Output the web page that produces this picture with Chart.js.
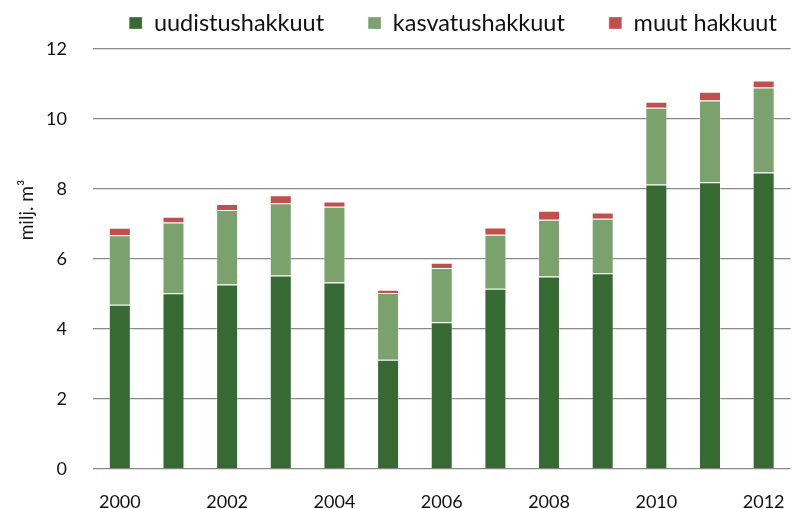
<!DOCTYPE html>
<html>
<head>
<meta charset="utf-8">
<script src="https://cdn.jsdelivr.net/npm/chart.js@4/dist/chart.umd.min.js"></script>
<style>
  html, body { margin: 0; padding: 0; background: #ffffff; }
  #wrap { width: 807px; height: 509px; position: relative; }
</style>
</head>
<body>
<div id="wrap"><canvas id="c"></canvas></div>
<script>
// ---- data (million m³) ----
const years = ['2000','2001','2002','2003','2004','2005','2006','2007','2008','2009','2010','2011','2012'];
const uudistushakkuut = [4.69, 5.02, 5.27, 5.53, 5.33, 3.12, 4.19, 5.15, 5.50, 5.59, 8.13, 8.19, 8.47];
const kasvatushakkuut = [1.99, 2.02, 2.13, 2.06, 2.16, 1.91, 1.55, 1.54, 1.62, 1.56, 2.19, 2.34, 2.43];
const muutHakkuut     = [0.21, 0.17, 0.17, 0.23, 0.15, 0.09, 0.15, 0.21, 0.26, 0.18, 0.17, 0.25, 0.20];
const seriesNames = ['uudistushakkuut', 'kasvatushakkuut', 'muut hakkuut'];
const yTicks = [0, 2, 4, 6, 8, 10, 12];
const yTitle = 'milj. m³';

Chart.defaults.font.family = 'Lato, "Open Sans", sans-serif';
Chart.defaults.color = '#1a1a1a';

const LEG_FS = 23.5, LEG_PAD = 44;

const yTitlePlugin = {
  id: 'yTitle',
  afterLayout(chart) {
    // place legend row (centered vertically at ~23px, horizontally at ~453px)
    const lg = chart.legend;
    if (lg) {
      const itemCenter = lg.top + LEG_PAD + LEG_FS / 2;
      const dy = 23 - itemCenter;
      lg.top += dy; lg.bottom += dy;
      const dx = 453 - (lg.left + lg.right) / 2;
      lg.left += dx; lg.right += dx;
    }
  },
  afterDraw(chart) {
    const ctx = chart.ctx;
    ctx.save();
    ctx.translate(27, 210);
    ctx.rotate(-Math.PI / 2);
    ctx.font = '19px Lato, "Open Sans", sans-serif';
    ctx.fillStyle = '#1a1a1a';
    ctx.textAlign = 'center';
    ctx.textBaseline = 'middle';
    ctx.fillText(yTitle, 0, 0);
    ctx.restore();
  }
};

const border = 'rgba(255,255,255,0.35)';
new Chart(document.getElementById('c'), {
  type: 'bar',
  data: {
    labels: years,
    datasets: [
      { label: seriesNames[0], data: uudistushakkuut, backgroundColor: '#376A32', borderColor: border, borderWidth: 1 },
      { label: seriesNames[1], data: kasvatushakkuut, backgroundColor: '#7BA16C', borderColor: border, borderWidth: 1 },
      { label: seriesNames[2], data: muutHakkuut, backgroundColor: '#C0504D', borderColor: border, borderWidth: 1 }
    ]
  },
  options: {
    responsive: true,
    maintainAspectRatio: false,
    animation: false,
    devicePixelRatio: 1,
    datasets: { bar: { barPercentage: 0.41, categoryPercentage: 1.0 } },
    layout: { padding: { left: 0, right: 12, top: 49 - (LEG_FS + LEG_PAD + 10), bottom: 0 } },
    plugins: {
      legend: {
        position: 'top',
        fullSize: true,
        labels: {
          boxWidth: 13, boxHeight: 12,
          padding: LEG_PAD,
          font: { size: LEG_FS },
          color: '#111'
        }
      },
      tooltip: { enabled: false },
      title: { display: false }
    },
    scales: {
      x: {
        stacked: true,
        grid: { display: false, drawTicks: false },
        border: { display: false },
        ticks: {
          autoSkip: false,
          maxRotation: 0,
          padding: 22,
          font: { size: 18 },
          color: '#111',
          callback: (v, i) => (i % 2 === 0 ? years[i] : '')
        },
        afterFit: (s) => { s.height = 40; }
      },
      y: {
        stacked: true,
        min: 0, max: 12,
        afterBuildTicks: (s) => { s.ticks = yTicks.map(v => ({ value: v })); },
        grid: { color: '#898989', lineWidth: 1.3, drawTicks: false },
        border: { display: false },
        ticks: { padding: 26, font: { size: 18 }, color: '#111' },
        afterFit: (s) => { s.width = 93; }
      }
    }
  },
  plugins: [yTitlePlugin]
});
</script>
</body>
</html>
